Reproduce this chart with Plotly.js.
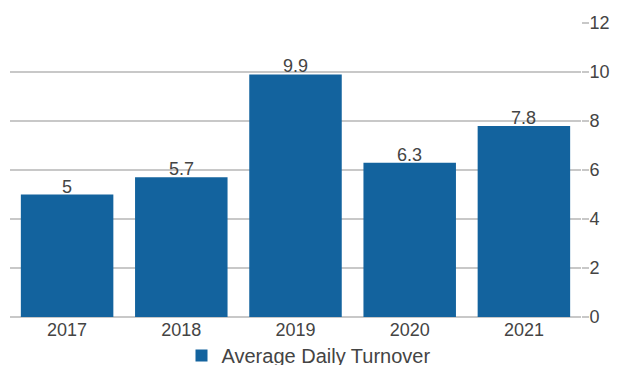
<!DOCTYPE html>
<html>
<head>
<meta charset="utf-8">
<script src="https://cdn.plot.ly/plotly-3.0.1.min.js"></script>
<style>html,body{margin:0;padding:0;background:#fff;}#chart{width:617px;height:365px;}</style>
</head>
<body>
<div id="chart"></div>
<script>
const years = ['2017', '2018', '2019', '2020', '2021'];
const turnover = [5, 5.7, 9.9, 6.3, 7.8];
const seriesName = 'Average Daily Turnover';
const yTicks = [0, 2, 4, 6, 8, 10, 12];

const FONT = 'Liberation Sans, Arial, Helvetica, sans-serif';

const trace = {
  type: 'bar',
  x: years,
  y: turnover,
  name: seriesName,
  marker: {color: '#13639e'},
  showlegend: true,
  hoverinfo: 'x+y'
};

// category axes place annotations by category index
const labels = years.map((yr, i) => ({
  x: i,
  y: turnover[i],
  xref: 'x',
  yref: 'y',
  text: String(turnover[i]),
  showarrow: false,
  yanchor: 'bottom',
  yshift: -4,
  font: {family: FONT, size: 18, color: '#444'}
}));

const layout = {
  width: 617,
  height: 365,
  margin: {l: 10, r: 36, t: 23, b: 48, autoexpand: false},
  paper_bgcolor: '#fff',
  plot_bgcolor: '#fff',
  bargap: 0.19,
  font: {family: FONT, size: 18, color: '#444'},
  xaxis: {
    type: 'category',
    showgrid: false,
    showline: false,
    ticks: '',
    tickfont: {size: 18, color: '#444'},
    fixedrange: true
  },
  yaxis: {
    side: 'right',
    range: [0, 12],
    tickvals: yTicks,
    ticktext: yTicks.map(String),
    showgrid: true,
    gridcolor: '#c8c8c8',
    gridwidth: 2,
    zeroline: true,
    zerolinecolor: '#c8c8c8',
    zerolinewidth: 2,
    ticks: 'outside',
    ticklen: 7,
    tickcolor: '#c8c8c8',
    tickwidth: 2,
    ticklabelstandoff: -3,
    tickfont: {size: 18, color: '#444'},
    fixedrange: true
  },
  annotations: labels,
  showlegend: true,
  legend: {
    orientation: 'h',
    x: 0.5,
    xanchor: 'center',
    xref: 'container',
    yref: 'paper',
    y: -0.197,
    yanchor: 'bottom',
    bgcolor: 'rgba(0,0,0,0)',
    font: {size: 20, color: '#444'}
  }
};

Plotly.newPlot('chart', [trace], layout, {displayModeBar: false, staticPlot: true});
</script>
</body>
</html>
